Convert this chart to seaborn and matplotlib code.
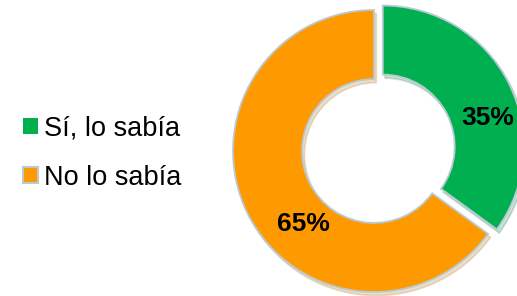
import numpy as np
import matplotlib
matplotlib.use("Agg")
import matplotlib.pyplot as plt
import seaborn as sns

# ------------------------------
# Data
# ------------------------------
labels = ["Sí, lo sabía", "No lo sabía"]
values = [35, 65]
colors = ["#00B050", "#FF9900"]

# where the percent labels sit (angle in degrees, radius as fraction)
label_angles = [15.5, 226]
label_radius = [0.77, 0.72]

sns.set_theme(style="white")
plt.rcParams["font.family"] = ["Liberation Sans", "DejaVu Sans"]
plt.rcParams["text.color"] = "black"

W, H = 517, 296
fig = plt.figure(figsize=(W / 100, H / 100), dpi=100)

# donut centre and radius in pixels
cx, cy, R = 374, 151, 141
ax = fig.add_axes([(cx - R) / W, (H - cy - R) / H, 2 * R / W, 2 * R / H])

wedges, texts, autotexts = ax.pie(
    values,
    colors=colors,
    startangle=90,
    counterclock=False,
    explode=[0.07, 0],
    radius=1,
    autopct="%d%%",
    pctdistance=0.75,
    wedgeprops=dict(width=0.49, edgecolor="#b9cad3", linewidth=1.3),
    textprops=dict(fontsize=19, fontweight="bold", color="black"),
    shadow=dict(ox=0.012, oy=-0.018, shade=0.35, alpha=0.2),
)

# move the percent labels where the original has them
for i, t in enumerate(autotexts):
    cxw, cyw = wedges[i].center
    a = np.deg2rad(label_angles[i])
    t.set_position((cxw + label_radius[i] * np.cos(a), cyw + label_radius[i] * np.sin(a)))

ax.set_xlim(-1, 1)
ax.set_ylim(-1, 1)
ax.set_aspect("equal")
ax.axis("off")
for w in wedges:
    w.set_clip_on(False)

# ------------------------------
# Legend on the left
# ------------------------------
handles = [
    plt.Rectangle((0, 0), 1, 1, facecolor=colors[0], edgecolor="none"),
    plt.Rectangle((0, 0), 1, 1, facecolor=colors[1], edgecolor="#b9cad3", linewidth=1.5),
]
leg = fig.legend(
    handles,
    labels,
    loc="center left",
    bbox_to_anchor=(-0.003, 0.483),
    frameon=False,
    fontsize=19.5,
    handlelength=0.55,
    handleheight=0.55,
    handletextpad=0.22,
    labelspacing=0.87,
)
for t in leg.get_texts():
    t.set_color("black")

fig.savefig("out.png", dpi=100)
